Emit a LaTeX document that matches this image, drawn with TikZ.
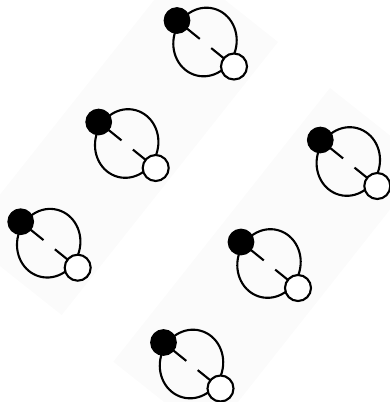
\documentclass[tikz,border=0pt]{standalone}
\usetikzlibrary{calc}
\begin{document}
\begin{tikzpicture}[x=1pt,y=-1pt,
  band/.style={fill=black!1.5,draw=none},
  shell/.style={draw=black,line width=2.1pt},
  bond/.style={draw=black,line width=2.1pt},
  heavy/.style={circle,fill=black,draw=black,line width=1.2pt,minimum size=25.5pt,inner sep=0pt},
  light/.style={circle,fill=white,draw=black,line width=2.1pt,minimum size=26pt,inner sep=0pt}]
\useasboundingbox (0,0) rectangle (390,402);
\clip (0,0) rectangle (390,402);
% faint background bands
\fill[band] (61.7,315) -- (278,42) -- (181.5,-34.5) -- (-34.8,238.5) -- cycle;
\fill[band] (113.3,361.7) -- (330,88) -- (426,164) -- (209.5,438) -- cycle;
% molecules
\foreach \i/\bx/\by in {1/177/20.5, 2/98.7/122, 3/320.3/140, 4/20.7/221.7, 5/241/242, 6/163.5/342.5}{
  \coordinate (b\i) at (\bx,\by);
  \coordinate (w\i) at (\bx+57,\by+46);
  \coordinate (c\i) at (\bx+28,\by+21.5);
  \draw[shell,rotate around={-15:(c\i)}] (c\i) ellipse [x radius=31.5pt, y radius=34.5pt];
  \draw[bond] (b\i) -- ($(b\i)!0.40!(w\i)$);
  \draw[bond] ($(b\i)!0.60!(w\i)$) -- (w\i);
  \node[heavy] (B\i) at (b\i) {};
  \node[light] (W\i) at (w\i) {};
}
\end{tikzpicture}
\end{document}
